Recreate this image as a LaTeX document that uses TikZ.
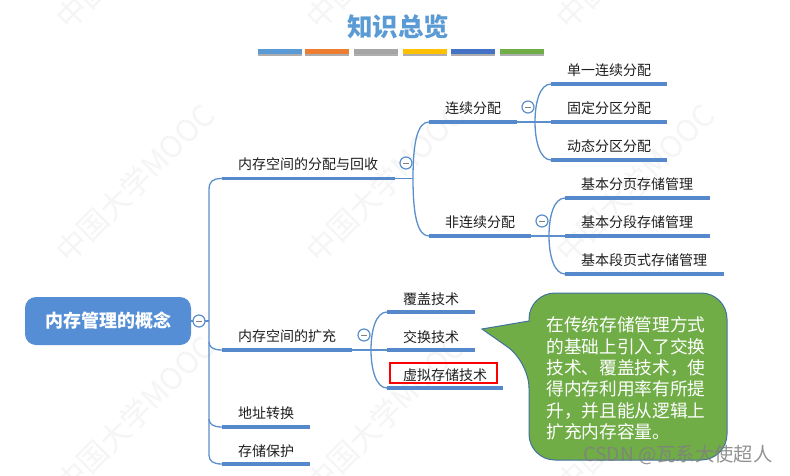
\documentclass[tikz,border=0pt]{standalone}
\usepackage{fontspec}
\setmainfont{Noto Sans CJK SC}
\usetikzlibrary{shadows}
\definecolor{lnblue}{HTML}{5B8FCB}
\definecolor{barblue}{HTML}{5589CC}
\definecolor{rootblue}{HTML}{558ED5}
\definecolor{titleblue}{HTML}{5B9BD5}
\definecolor{callgreen}{HTML}{70AD47}
\definecolor{calledge}{HTML}{41719C}
\definecolor{dA}{HTML}{5B9BD5}
\definecolor{dB}{HTML}{ED7D31}
\definecolor{dC}{HTML}{A5A5A5}
\definecolor{dD}{HTML}{FFC000}
\definecolor{dE}{HTML}{4472C4}
\definecolor{dF}{HTML}{70AD47}
\tikzset{
  x=1pt,y=-1pt,
  barnode/.style={fill=barblue,inner sep=0,outer sep=0,minimum height=3.6pt,anchor=west},
  topic/.style={font=\fontsize{14}{14}\selectfont,text=black!88,inner sep=0,anchor=west},
  link/.style={draw=lnblue,line width=1.3pt},
  collapse/.style={circle,draw=lnblue,fill=white,line width=1.2pt,minimum size=12pt,inner sep=0,
    path picture={\draw[gray,line width=.8pt] (-3,0)--(3,0);}},
  deco/.style={inner sep=0,outer sep=0,minimum height=5pt,anchor=west,minimum width=44pt,
    drop shadow={shadow xshift=0pt,shadow yshift=-1.6pt,opacity=.45,fill=black!70}},
  wmark/.style={font=\fontsize{30}{30}\selectfont,text=black!4,rotate=45,inner sep=0}
}
\begin{document}
\begin{tikzpicture}
\useasboundingbox (0,0) rectangle (790,475);
\fill[white] (0,0) rectangle (790,475);
% watermarks
\foreach \i/\cx/\cy in {a/135/-50,b/385/-50,c/635/-50,d/135/183,e/385/183,f/635/183,g/135/415,h/385/415,j/635/415}{
  \node[wmark] (wm\i) at (\cx,\cy) {中国大学MOOC};
}
% title
\node[font=\bfseries\fontsize{25.5}{25.5}\selectfont,text=titleblue,inner sep=0] (title) at (398,27) {知识总览};
\node[deco,fill=dA] (d1) at (258,51.5) {};
\node[deco,fill=dB] (d2) at (305,51.5) {};
\node[deco,fill=dC] (d3) at (354,51.5) {};
\node[deco,fill=dD] (d4) at (403,51.5) {};
\node[deco,fill=dE] (d5) at (451,51.5) {};
\node[deco,fill=dF] (d6) at (500,51.5) {};
% bars
\node[barnode,minimum width=173pt] (l1) at (222,178.5) {};
\node[barnode,minimum width=130pt] (l2) at (222,350) {};
\node[barnode,minimum width=88pt] (l3) at (222,427) {};
\node[barnode,minimum width=88pt] (l4) at (222,464) {};
\node[barnode,minimum width=88pt] (a) at (429,122) {};
\node[barnode,minimum width=102pt] (b) at (429,236) {};
\node[barnode,minimum width=116pt] (a1) at (551,84) {};
\node[barnode,minimum width=116pt] (a2) at (551,122) {};
\node[barnode,minimum width=116pt] (a3) at (551,160) {};
\node[barnode,minimum width=145pt] (b1) at (565,198) {};
\node[barnode,minimum width=145pt] (b2) at (565,236) {};
\node[barnode,minimum width=159pt] (b3) at (565,274) {};
\node[barnode,minimum width=88pt] (c1) at (387,312) {};
\node[barnode,minimum width=88pt] (c2) at (387,350) {};
\node[barnode,minimum width=116pt] (c3) at (387,388) {};
% root
\node[fill=rootblue,rounded corners=11pt,minimum width=166pt,minimum height=48pt,inner sep=0,text=white,font=\bfseries\fontsize{18}{18}\selectfont] (root) at (108,321) {内存管理的概念};
% junctions
\coordinate (s) at (209,321);
\coordinate (j1) at (413,178.5);
\coordinate (ja) at (535,122);
\coordinate (jb) at (549,236);
\coordinate (jc) at (371,350);
% connectors
\draw[link] (root.east) -- (s);
\draw[link] (l1.west) .. controls (213,178.5) and (209,181) .. (209,190) -- (209,455) .. controls (209,461) and (213,464) .. (l4.west);
\draw[link] (209,342) .. controls (209,347) and (213,350) .. (l2.west);
\draw[link] (209,419) .. controls (209,424) and (213,427) .. (l3.west);
\draw[link] (l1.east) -- (j1);
\draw[link] (a.west) .. controls (418,122) and (413,140) .. (j1) .. controls (413,217) and (418,236) .. (b.west);
\draw[link] (a.east) -- (a2.west);
\draw[link] (a1.west) .. controls (540,84) and (535,102) .. (ja) .. controls (535,141) and (540,160) .. (a3.west);
\draw[link] (b.east) -- (b2.west);
\draw[link] (b1.west) .. controls (554,198) and (549,216) .. (jb) .. controls (549,255) and (554,274) .. (b3.west);
\draw[link] (l2.east) -- (c2.west);
\draw[link] (c1.west) .. controls (376,312) and (371,330) .. (jc) .. controls (371,369) and (376,388) .. (c3.west);
% collapse marks
\node[collapse] (m0) at (199,321) {};
\node[collapse] (m1) at (406,163) {};
\node[collapse] (m2) at (528,107) {};
\node[collapse] (m3) at (542,221) {};
\node[collapse] (m4) at (364,335) {};
% labels
\node[topic] (t1) at (238,164) {内存空间的分配与回收};
\node[topic] (t2) at (238,336) {内存空间的扩充};
\node[topic] (t3) at (238,413) {地址转换};
\node[topic] (t4) at (238,451) {存储保护};
\node[topic] (ta) at (445,108) {连续分配};
\node[topic] (tb) at (445,222) {非连续分配};
\node[topic] (ta1) at (567,70) {单一连续分配};
\node[topic] (ta2) at (567,108) {固定分区分配};
\node[topic] (ta3) at (567,146) {动态分区分配};
\node[topic] (tb1) at (581,184) {基本分页存储管理};
\node[topic] (tb2) at (581,222) {基本分段存储管理};
\node[topic] (tb3) at (581,260) {基本段页式存储管理};
\node[topic] (tc1) at (403,299) {覆盖技术};
\node[topic] (tc2) at (403,337) {交换技术};
\node[topic] (tc3) at (403,375) {虚拟存储技术};
\node[draw=red,line width=1.6pt,inner sep=0,minimum width=107pt,minimum height=20pt] (hl) at (443.5,373) {};
% callout
\draw[fill=callgreen,draw=calledge,line width=1pt] (482,329) -- (529,321) [rounded corners=26pt] -- (529,293) -- (727,293) -- (727,460) -- (529,460) -- (529,362) [sharp corners] -- cycle;
\node[text=white,inner sep=0,align=left,font=\fontsize{17.7}{21.4}\selectfont] (note) at (626,378.5) {在传统存储管理方式\\的基础上引入了交换\\技术、覆盖技术，使\\得内存利用率有所提\\升，并且能从逻辑上\\扩充内存容量。};
% site mark
\node[text=black!50,opacity=.85,inner sep=0,font=\fontsize{19.3}{19.3}\selectfont] (csdn) at (678,455) {CSDN @瓦系大使超人};
\end{tikzpicture}
\end{document}
